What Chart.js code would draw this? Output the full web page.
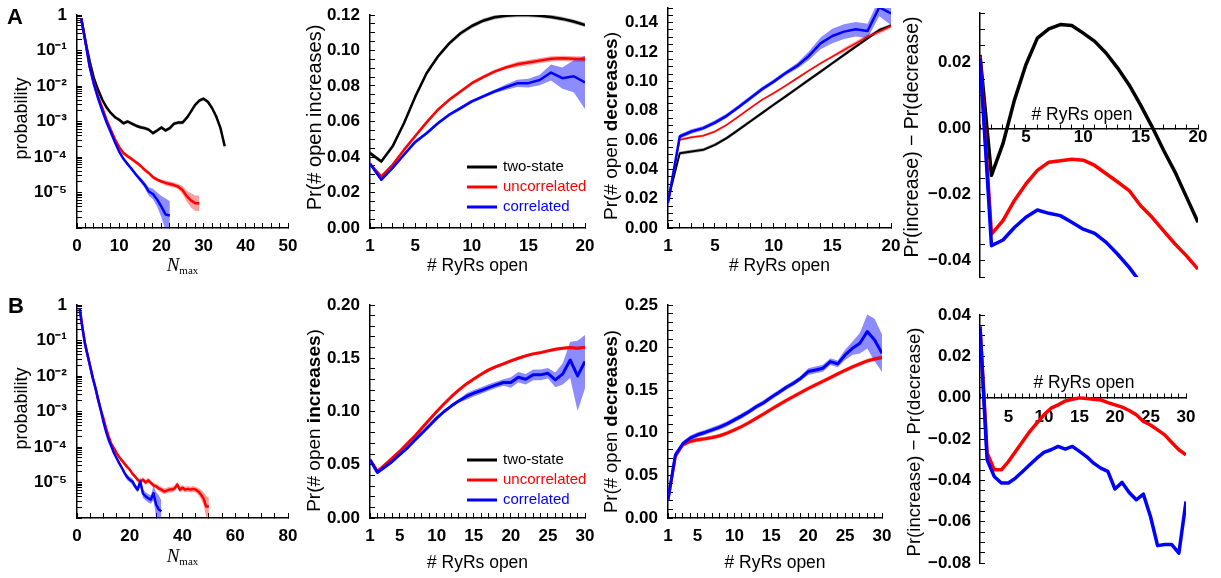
<!DOCTYPE html>
<html>
<head>
<meta charset="utf-8">
<script src="https://cdn.jsdelivr.net/npm/chart.js@4.4.1/dist/chart.umd.min.js"></script>
<style>
  html, body { margin: 0; padding: 0; background: #fff; }
  #fig { position: relative; width: 1221px; height: 578px; overflow: hidden; background: #fff; }
  #fig canvas { position: absolute; }
</style>
</head>
<body>
<div id="fig">
  <canvas id="a1" width="300" height="285" style="left:0;top:0"></canvas>
  <canvas id="a2" width="302" height="285" style="left:298px;top:0"></canvas>
  <canvas id="a3" width="305" height="285" style="left:600px;top:0"></canvas>
  <canvas id="a4" width="321" height="285" style="left:900px;top:0"></canvas>
  <canvas id="b1" width="300" height="288" style="left:0;top:290px"></canvas>
  <canvas id="b2" width="302" height="288" style="left:298px;top:290px"></canvas>
  <canvas id="b3" width="305" height="288" style="left:600px;top:290px"></canvas>
  <canvas id="b4" width="321" height="288" style="left:900px;top:290px"></canvas>
</div>
<script>
// every series starts at x = 1 (N_max or # RyRs open) and steps by one

// --- row A, N_max distribution (log scale)
const a1Two = [0.81, 0.178, 0.05, 0.0166, 0.0078, 0.0041, 0.0025, 0.00174, 0.00132, 0.00112,
  8.9e-4, 1.0e-3, 8.7e-4, 7.6e-4, 6.9e-4, 6.5e-4, 5.9e-4, 4.7e-4, 5.6e-4, 6.8e-4,
  5.6e-4, 6.5e-4, 8.7e-4, 9.3e-4, 9.3e-4, 1.26e-3, 1.9e-3, 2.95e-3, 3.9e-3, 4.4e-3,
  3.6e-3, 2.4e-3, 1.38e-3, 6.5e-4, 2.0e-4];
const a1Unc = [0.81, 0.178, 0.0355, 0.012, 0.005, 0.0024, 0.00112, 5.9e-4, 3.16e-4, 1.9e-4,
  1.29e-4, 1.05e-4, 8.7e-5, 7.1e-5, 5.75e-5, 4.4e-5, 3.55e-5, 2.7e-5, 2.3e-5, 2.04e-5,
  1.86e-5, 1.74e-5, 1.62e-5, 1.45e-5, 1.17e-5, 7.9e-6, 6.0e-6, 5.0e-6, 5.0e-6];
const a1Cor = [0.81, 0.178, 0.0355, 0.0112, 0.0045, 0.002, 9.5e-4, 5.0e-4, 2.6e-4, 1.41e-4,
  8.9e-5, 6.3e-5, 4.5e-5, 3.16e-5, 2.3e-5, 1.66e-5, 1.07e-5, 9.1e-6, 6.3e-6, 4.0e-6,
  2.4e-6, 2.24e-6];
// band half-widths in decades
const a1TwoSd = [0.02, 0.02, 0.02, 0.02, 0.02, 0.02, 0.02, 0.05, 0.05, 0.05,
  0.05, 0.05, 0.05, 0.05, 0.05, 0.05, 0.05, 0.05, 0.05, 0.05,
  0.05, 0.05, 0.05, 0.05, 0.05, 0.05, 0.05, 0.05, 0.05, 0.05,
  0.05, 0.05, 0.05, 0.07, 0.09];
const a1UncSd = [0.02, 0.02, 0.02, 0.02, 0.02, 0.02, 0.02, 0.02, 0.02, 0.02,
  0.05, 0.05, 0.05, 0.05, 0.05, 0.05, 0.05, 0.05, 0.05, 0.05,
  0.07, 0.07, 0.07, 0.07, 0.12, 0.15, 0.2, 0.22, 0.22];
const a1CorSd = [0.02, 0.02, 0.02, 0.02, 0.02, 0.02, 0.02, 0.02, 0.02, 0.02,
  0.02, 0.02, 0.05, 0.05, 0.06, 0.08, 0.12, 0.15, 0.2, 0.3,
  0.45, 0.4];

// --- row A, Pr(# open increases)
const a2Two = [0.0422, 0.0375, 0.046, 0.059, 0.074, 0.0872, 0.0966, 0.104, 0.1097, 0.1138,
  0.1168, 0.1187, 0.1196, 0.12, 0.12, 0.1196, 0.1189, 0.1178, 0.1163, 0.1144];
const a2Unc = [0.0362, 0.029, 0.0356, 0.044, 0.0518, 0.0595, 0.0666, 0.0722, 0.0769, 0.0816,
  0.085, 0.0881, 0.0904, 0.0922, 0.0932, 0.0943, 0.0953, 0.0956, 0.0953, 0.0951];
const a2Cor = [0.0362, 0.0272, 0.0338, 0.0413, 0.0485, 0.0534, 0.059, 0.0638, 0.0675, 0.0713,
  0.0741, 0.0769, 0.0793, 0.0815, 0.0816, 0.0834, 0.0876, 0.0844, 0.0855, 0.082];
const a2TwoSd = [0.0012, 0.0012, 0.0012, 0.0012, 0.0012, 0.0012, 0.0012, 0.0012, 0.0012, 0.0012,
  0.0012, 0.0012, 0.0012, 0.0012, 0.0012, 0.0012, 0.0012, 0.0012, 0.0012, 0.0012];
const a2UncSd = [0.001, 0.001, 0.001, 0.001, 0.001, 0.001, 0.001, 0.001, 0.001, 0.001,
  0.001, 0.001, 0.001, 0.0015, 0.0015, 0.0015, 0.0015, 0.0015, 0.0015, 0.0015];
const a2CorSd = [0.001, 0.001, 0.001, 0.001, 0.001, 0.001, 0.001, 0.001, 0.001, 0.001,
  0.001, 0.001, 0.0015, 0.002, 0.0025, 0.003, 0.0045, 0.006, 0.009, 0.015];

// --- row A, Pr(# open decreases)
const a3Two = [0.019, 0.051, 0.0522, 0.0533, 0.0567, 0.0613, 0.0669, 0.0726, 0.0783, 0.084,
  0.0896, 0.0953, 0.101, 0.1066, 0.1123, 0.118, 0.1237, 0.1293, 0.135, 0.138];
const a3Unc = [0.019, 0.0601, 0.0619, 0.0629, 0.0658, 0.0703, 0.076, 0.0817, 0.0874, 0.0919,
  0.0969, 0.1021, 0.1073, 0.1123, 0.1169, 0.1214, 0.1259, 0.1305, 0.1339, 0.1377];
const a3Cor = [0.017, 0.0624, 0.0658, 0.0681, 0.0719, 0.0765, 0.0824, 0.0885, 0.0946, 0.0998,
  0.1055, 0.1105, 0.1173, 0.1259, 0.1309, 0.1339, 0.1355, 0.1343, 0.1504, 0.1464];
const a3TwoSd = [0.0012, 0.0012, 0.0012, 0.0012, 0.0012, 0.0012, 0.0012, 0.0012, 0.0012, 0.0012,
  0.0012, 0.0012, 0.0012, 0.0012, 0.0012, 0.0012, 0.0012, 0.0012, 0.0012, 0.0012];
const a3UncSd = [0.0008, 0.0008, 0.0008, 0.0008, 0.0008, 0.0008, 0.0008, 0.0008, 0.0008, 0.0008,
  0.0008, 0.0008, 0.0008, 0.0008, 0.0008, 0.0015, 0.0015, 0.0015, 0.0015, 0.0015];
const a3CorSd = [0.0015, 0.0015, 0.0015, 0.0015, 0.0015, 0.0015, 0.0015, 0.0015, 0.0015, 0.0015,
  0.0015, 0.002, 0.003, 0.004, 0.005, 0.005, 0.005, 0.005, 0.006, 0.008];

// --- row A, Pr(increase) - Pr(decrease)
const a4Two = [0.0223, -0.0142, -0.0046, 0.0086, 0.0193, 0.0274, 0.0302, 0.0315, 0.0312, 0.0289,
  0.0264, 0.0228, 0.0183, 0.0132, 0.0071, 0.0005, -0.0066, -0.0132, -0.0208, -0.0284];
const a4Unc = [0.0218, -0.032, -0.0279, -0.0218, -0.0168, -0.0127, -0.0102, -0.0098, -0.0093, -0.0096,
  -0.0112, -0.0137, -0.0162, -0.0188, -0.0234, -0.0269, -0.031, -0.035, -0.0386, -0.0426];
const a4Cor = [0.0213, -0.0355, -0.0338, -0.03, -0.0269, -0.0247, -0.0257, -0.0264, -0.0284, -0.0305,
  -0.0318, -0.0345, -0.0381, -0.0421, -0.0467];

// --- row B, N_max distribution (log scale)
const b1Unc = [0.81, 0.245, 0.083, 0.039, 0.0186, 0.0087, 0.0046, 0.0022, 0.00112, 6.5e-4,
  3.4e-4, 2.0e-4, 1.23e-4, 9.3e-5, 6.8e-5, 5.2e-5, 4.2e-5, 3.4e-5, 2.75e-5, 2.3e-5,
  1.78e-5, 1.48e-5, 1.2e-5, 1.07e-5, 1.2e-5, 1.0e-5, 1.15e-5, 9.8e-6, 8.3e-6, 7.8e-6,
  6.8e-6, 6.3e-6, 5.6e-6, 5.9e-6, 6.3e-6, 6.3e-6, 6.8e-6, 8.7e-6, 6.3e-6, 7.1e-6,
  6.3e-6, 6.6e-6, 6.3e-6, 6.6e-6, 6.3e-6, 5.6e-6, 4.6e-6, 3.5e-6, 2.1e-6, 2.1e-6];
const b1Cor = [0.81, 0.245, 0.083, 0.039, 0.0186, 0.0087, 0.0046, 0.0022, 0.00112, 5.2e-4,
  2.75e-4, 1.58e-4, 1.05e-4, 6.8e-5, 4.9e-5, 3.5e-5, 2.6e-5, 1.86e-5, 1.41e-5, 1.2e-5,
  1.07e-5, 7.8e-6, 6.3e-6, 1.07e-5, 4.9e-6, 4.1e-6, 3.6e-6, 3.3e-6, 5.0e-6, 2.4e-6,
  1.74e-6, 1.55e-6];
const b1UncSd = [0.02, 0.02, 0.02, 0.02, 0.02, 0.02, 0.02, 0.02, 0.02, 0.02,
  0.02, 0.02, 0.02, 0.02, 0.02, 0.05, 0.05, 0.05, 0.05, 0.05,
  0.05, 0.05, 0.07, 0.07, 0.07, 0.07, 0.07, 0.07, 0.07, 0.07,
  0.08, 0.08, 0.08, 0.08, 0.08, 0.08, 0.08, 0.08, 0.08, 0.08,
  0.08, 0.08, 0.08, 0.08, 0.08, 0.1, 0.13, 0.18, 0.3, 0.25];
const b1CorSd = [0.02, 0.02, 0.02, 0.02, 0.02, 0.02, 0.02, 0.02, 0.02, 0.02,
  0.02, 0.02, 0.02, 0.02, 0.05, 0.05, 0.05, 0.05, 0.08, 0.08,
  0.08, 0.08, 0.08, 0.12, 0.12, 0.12, 0.12, 0.12, 0.2, 0.35,
  0.4, 0.3];

// --- row B, Pr(# open increases)
const b2Unc = [0.0547, 0.0438, 0.05, 0.0563, 0.0625, 0.0697, 0.0766, 0.0844, 0.0922, 0.1,
  0.1072, 0.1141, 0.1203, 0.1259, 0.1306, 0.135, 0.1391, 0.1422, 0.1447, 0.1475,
  0.15, 0.1522, 0.1541, 0.1553, 0.1569, 0.1584, 0.1594, 0.16, 0.1594, 0.1603];
const b2Cor = [0.0547, 0.0428, 0.0478, 0.0531, 0.0594, 0.0656, 0.0728, 0.0797, 0.0866, 0.0938,
  0.1, 0.1053, 0.11, 0.1141, 0.1172, 0.1197, 0.1225, 0.125, 0.1272, 0.1272,
  0.1322, 0.1303, 0.1344, 0.1344, 0.1359, 0.1297, 0.1353, 0.1484, 0.1334, 0.1469];
const b2UncSd = [0.0015, 0.0015, 0.0015, 0.0015, 0.0015, 0.0015, 0.0015, 0.0015, 0.0015, 0.0015,
  0.0015, 0.0015, 0.0015, 0.0015, 0.0015, 0.0015, 0.0015, 0.0015, 0.0015, 0.0015,
  0.0015, 0.0015, 0.0015, 0.0015, 0.0015, 0.0015, 0.0015, 0.0015, 0.0015, 0.0015];
const b2CorSd = [0.0015, 0.0015, 0.0015, 0.0015, 0.0015, 0.0015, 0.0015, 0.0015, 0.0015, 0.0015,
  0.0015, 0.0015, 0.0015, 0.003, 0.003, 0.003, 0.003, 0.003, 0.003, 0.005,
  0.005, 0.005, 0.005, 0.005, 0.005, 0.007, 0.01, 0.017, 0.033, 0.025];

// --- row B, Pr(# open decreases)
const b3Unc = [0.0215, 0.0723, 0.0859, 0.0898, 0.0918, 0.093, 0.0945, 0.0965, 0.0996, 0.1035,
  0.1074, 0.1121, 0.1172, 0.1223, 0.1277, 0.1328, 0.1379, 0.1426, 0.1473, 0.152,
  0.1563, 0.1605, 0.1648, 0.1691, 0.1734, 0.1773, 0.1809, 0.1844, 0.1867, 0.1883];
const b3Cor = [0.0215, 0.0742, 0.0871, 0.0938, 0.0977, 0.1004, 0.1035, 0.1066, 0.1105, 0.1152,
  0.1199, 0.125, 0.1309, 0.1355, 0.1418, 0.1473, 0.1531, 0.1582, 0.1641, 0.1719,
  0.1738, 0.1758, 0.1836, 0.1809, 0.1914, 0.1992, 0.2051, 0.2188, 0.209, 0.1934];
const b3UncSd = [0.0025, 0.0025, 0.0025, 0.0025, 0.0025, 0.0025, 0.0025, 0.0025, 0.0025, 0.0025,
  0.0025, 0.0025, 0.0025, 0.0025, 0.0025, 0.0025, 0.0025, 0.0025, 0.0025, 0.0025,
  0.0025, 0.0025, 0.0025, 0.0025, 0.0025, 0.0025, 0.0025, 0.0025, 0.0025, 0.0025];
const b3CorSd = [0.003, 0.003, 0.003, 0.003, 0.003, 0.003, 0.003, 0.003, 0.003, 0.003,
  0.003, 0.003, 0.003, 0.003, 0.003, 0.003, 0.003, 0.003, 0.003, 0.004,
  0.004, 0.004, 0.004, 0.004, 0.006, 0.008, 0.012, 0.02, 0.025, 0.022];

// --- row B, Pr(increase) - Pr(decrease)
const b4Unc = [0.0344, -0.0268, -0.0349, -0.0349, -0.0309, -0.026, -0.0212, -0.0164, -0.0123, -0.0083,
  -0.0051, -0.0035, -0.0016, -0.0008, -0.0001, -0.0004, -0.0008, -0.0011, -0.0024, -0.0035,
  -0.0046, -0.0062, -0.0083, -0.0115, -0.0132, -0.0156, -0.018, -0.0217, -0.0252, -0.0277];
const b4Cor = [0.0344, -0.0301, -0.0381, -0.0413, -0.0413, -0.0389, -0.0357, -0.0325, -0.0293, -0.0265,
  -0.0252, -0.0236, -0.0249, -0.0236, -0.026, -0.0285, -0.0317, -0.0341, -0.0357, -0.0442,
  -0.041, -0.0459, -0.0494, -0.0467, -0.0575, -0.0716, -0.0711, -0.0711, -0.0752, -0.0502];

// labelled ticks
const logLabels = [1e-5, 1e-4, 1e-3, 1e-2, 1e-1, 1];
const a1XLabels = [0, 10, 20, 30, 40, 50];
const b1XLabels = [0, 20, 40, 60, 80];
const openA = [1, 5, 10, 15, 20];
const openB = [1, 5, 10, 15, 20, 25, 30];
const a2YLabels = [0, 0.02, 0.04, 0.06, 0.08, 0.10, 0.12];
const a3YLabels = [0, 0.02, 0.04, 0.06, 0.08, 0.10, 0.12, 0.14];
const a4YLabels = [-0.04, -0.02, 0, 0.02];
const b2YLabels = [0, 0.05, 0.10, 0.15, 0.20];
const b3YLabels = [0, 0.05, 0.10, 0.15, 0.20, 0.25];
const b4YLabels = [-0.08, -0.06, -0.04, -0.02, 0, 0.02, 0.04];

const names = ['two-state', 'uncorrelated', 'correlated'];
const BLACK = '#000000', RED = '#ff0000', BLUE = '#0000ff';
const SANS = '"Liberation Sans", Arial, Helvetica, sans-serif';
const SERIF = '"Liberation Serif", "Times New Roman", serif';
const tickFont = { family: SANS, size: 17, weight: 'bold' };
const SUP = { '-': '\u207B', '0': '\u2070', '1': '\u00B9', '2': '\u00B2', '3': '\u00B3', '4': '\u2074', '5': '\u2075', '6': '\u2076', '7': '\u2077', '8': '\u2078', '9': '\u2079' };

const bandColor = { [BLACK]: 'rgba(0,0,0,0.32)', [RED]: 'rgba(255,0,0,0.38)', [BLUE]: 'rgba(0,0,255,0.45)' };
const layer = { [BLUE]: 0, [RED]: 1, [BLACK]: 2 };

// one curve plus its shaded band (hi filled down to lo)
function trace(name, color, ys, sd, width, log) {
  const at = (i, y) => ({ x: i + 1, y });
  const sets = [];
  if (sd) {
    const hi = ys.map((y, i) => at(i, log ? y * Math.pow(10, sd[i]) : y + sd[i]));
    const lo = ys.map((y, i) => at(i, log ? y / Math.pow(10, sd[i]) : y - sd[i]));
    sets.push({ data: hi, borderWidth: 0, borderColor: 'transparent', fill: '+1', backgroundColor: bandColor[color], order: 10 + layer[color] });
    sets.push({ data: lo, borderWidth: 0, borderColor: 'transparent', fill: false, order: 10 + layer[color] });
  }
  sets.push({ label: name, key: true, data: ys.map((y, i) => at(i, y)), borderColor: color, backgroundColor: color, borderWidth: width, fill: false, order: layer[color] });
  return sets;
}

function steps(min, max, step) {
  const out = [];
  const n = Math.round((max - min) / step);
  for (let i = 0; i <= n; i++) out.push(+(min + i * step).toFixed(6));
  return out;
}

const fixed2 = v => (v < -1e-9 ? '\u2212' : '') + Math.abs(v).toFixed(2);
const whole = v => String(Math.round(v));

function axisBase(pos, pad, size) {
  return {
    position: pos,
    grid: { drawOnChartArea: false, drawTicks: true, tickLength: -5, color: '#000', tickColor: '#000', tickWidth: 1 },
    border: { display: true, color: '#000', width: 1.5 },
    title: { display: false },
    afterFit: s => {
      if (size != null) { if (s.isHorizontal()) s.height = size; else s.width = size; }
      s.paddingTop = s.paddingBottom = s.paddingLeft = s.paddingRight = 0;
    }
  };
}

function linAxis(pos, min, max, step, labels, fmt, pad, size) {
  const ax = axisBase(pos, pad, size);
  ax.type = 'linear'; ax.min = min; ax.max = max;
  ax.afterBuildTicks = s => { s.ticks = steps(min, max, step).map(value => ({ value })); };
  ax.ticks = {
    autoSkip: false, maxRotation: 0, minRotation: 0, padding: pad, color: '#000', font: tickFont,
    callback: v => labels.some(m => Math.abs(m - v) < step / 10) ? fmt(v) : ''
  };
  return ax;
}

// log axis 1e-6 .. 1 with minor ticks at 2..9 of each decade
function logAxis(pad, size) {
  const ax = axisBase('left', pad, size);
  ax.type = 'logarithmic'; ax.min = 1e-6; ax.max = 1;
  ax.afterBuildTicks = s => {
    const t = [];
    for (let e = -6; e < 0; e++) for (let m = 1; m <= 9; m++) t.push({ value: +(m * Math.pow(10, e)).toPrecision(3) });
    t.push({ value: 1 });
    s.ticks = t;
  };
  ax.ticks = {
    autoSkip: false, padding: pad, color: '#000', font: tickFont,
    callback: v => {
      if (!logLabels.some(m => Math.abs(v / m - 1) < 1e-6)) return '';
      const e = Math.round(Math.log10(v));
      return e === 0 ? '1' : '10' + String(e).split('').map(c => SUP[c]).join('');
    }
  };
  return ax;
}

// free text placed against the plot area: x from left/mid/right, y from top/mid/bottom/zero
function captions(items) {
  return {
    id: 'captions',
    afterDraw(chart) {
      const { ctx, chartArea: a } = chart;
      items.forEach(it => {
        let x = it.x[0] === 'left' ? a.left : it.x[0] === 'right' ? a.right : (a.left + a.right) / 2;
        let y = it.y[0] === 'top' ? a.top : it.y[0] === 'bottom' ? a.bottom :
          it.y[0] === 'zero' ? chart.scales.y.getPixelForValue(0) : (a.top + a.bottom) / 2;
        x += it.x[1]; y += it.y[1];
        ctx.save();
        ctx.translate(x, y);
        if (it.rot) ctx.rotate(it.rot * Math.PI / 180);
        ctx.fillStyle = '#000';
        ctx.textAlign = 'left';
        ctx.textBaseline = it.base || 'middle';
        let w = 0;
        it.parts.forEach(p => { ctx.font = p[1]; w += ctx.measureText(p[0]).width; });
        let cx = -w / 2;
        it.parts.forEach(p => {
          ctx.font = p[1];
          ctx.fillText(p[0], cx, p[2] || 0);
          cx += ctx.measureText(p[0]).width;
        });
        ctx.restore();
      });
    }
  };
}

// series key drawn inside the plot, rows measured up from the bottom edge
function insideKey(dx, rows) {
  return {
    id: 'insideKey',
    afterDatasetsDraw(chart) {
      const { ctx, chartArea: a } = chart;
      const items = chart.data.datasets.filter(d => d.key);
      ctx.save();
      ctx.font = '15px ' + SANS;
      ctx.textBaseline = 'middle';
      ctx.textAlign = 'left';
      items.forEach((d, i) => {
        const y = a.bottom - rows[i];
        ctx.strokeStyle = d.borderColor;
        ctx.lineWidth = 3;
        ctx.beginPath();
        ctx.moveTo(a.left + dx, y);
        ctx.lineTo(a.left + dx + 30, y);
        ctx.stroke();
        ctx.fillStyle = d.borderColor;
        ctx.fillText(d.label, a.left + dx + 36, y);
      });
      ctx.restore();
    }
  };
}

function panel(id, cfg) {
  const plugins = [captions(cfg.captions)];
  if (cfg.key) plugins.push(insideKey(cfg.key[0], cfg.key[1]));
  return new Chart(document.getElementById(id), {
    type: 'line',
    data: { datasets: cfg.datasets },
    options: {
      responsive: false, animation: false, events: [],
      layout: { padding: cfg.pad },
      elements: {
        point: { radius: 0, hoverRadius: 0 },
        line: { tension: 0, borderJoinStyle: 'round', borderCapStyle: 'butt' }
      },
      plugins: { legend: { display: false }, tooltip: { enabled: false } },
      scales: { x: cfg.x, y: cfg.y }
    },
    plugins
  });
}

const f = (size, weight) => (weight || '') + ' ' + size + 'px ' + SANS;
const prTitle = (word, size, bold) => [['Pr(# open ', f(size)], [word, f(size, bold ? 'bold' : '')], [')', f(size)]];
const nMax = [['N', 'italic 19px ' + SERIF], ['max', '11px ' + SERIF, 3]];
const openTitle = [['# RyRs open', f(17.5)]];
const diffTitle = size => [['Pr(increase) \u2212 Pr(decrease)', f(size)]];

// ---------------- row A
panel('a1', {
  pad: { left: 0, top: 15, right: 12, bottom: 0 },
  x: linAxis('bottom', 0, 50, 2, a1XLabels, whole, 13.5, 57),
  y: logAxis(15, 77),
  datasets: [].concat(
    trace(names[0], BLACK, a1Two, a1TwoSd, 2.5, true),
    trace(names[1], RED, a1Unc, a1UncSd, 2.5, true),
    trace(names[2], BLUE, a1Cor, a1CorSd, 2.5, true)),
  captions: [
    { parts: [['A', 'bold 22px ' + SANS]], x: ['left', -62], y: ['top', 3] },
    { parts: [['probability', f(18)]], x: ['left', -55], y: ['mid', -3], rot: -90 },
    { parts: nMax, x: ['mid', 0], y: ['bottom', 43], base: 'alphabetic' }
  ]
});

panel('a2', {
  pad: { left: 0, top: 15, right: 15, bottom: 0 },
  x: linAxis('bottom', 1, 20, 1, openA, whole, 13.5, 57),
  y: linAxis('left', 0, 0.12, 0.005, a2YLabels, fixed2, 15, 72),
  datasets: [].concat(
    trace(names[0], BLACK, a2Two, a2TwoSd, 2.5),
    trace(names[1], RED, a2Unc, a2UncSd, 2.5),
    trace(names[2], BLUE, a2Cor, a2CorSd, 2.5)),
  key: [97, [61, 41, 21]],
  captions: [
    { parts: prTitle('increases', 20, false), x: ['left', -55], y: ['mid', -4], rot: -90 },
    { parts: openTitle, x: ['mid', 0], y: ['bottom', 38] }
  ]
});

panel('a3', {
  pad: { left: 0, top: 8, right: 14, bottom: 0 },
  x: linAxis('bottom', 1, 20, 1, openA, whole, 13.5, 57),
  y: linAxis('left', 0, 0.15, 0.005, a3YLabels, fixed2, 15, 68),
  datasets: [].concat(
    trace(names[0], BLACK, a3Two, a3TwoSd, 2),
    trace(names[1], RED, a3Unc, a3UncSd, 1.5),
    trace(names[2], BLUE, a3Cor, a3CorSd, 2.5)),
  captions: [
    { parts: prTitle('decreases', 19, true), x: ['left', -56], y: ['mid', 8], rot: -90 },
    { parts: openTitle, x: ['mid', 0], y: ['bottom', 38] }
  ]
});

panel('a4', {
  pad: { left: 0, top: 13, right: 23, bottom: 8 },
  x: linAxis({ y: 0 }, 1, 20, 1, [5, 10, 15, 20], whole, 4, null),
  y: linAxis('left', -0.045, 0.035, 0.005, a4YLabels, fixed2, 14, 80),
  datasets: [].concat(
    trace(names[0], BLACK, a4Two, null, 3.5),
    trace(names[1], RED, a4Unc, null, 3.5),
    trace(names[2], BLUE, a4Cor, null, 3.5)),
  captions: [
    { parts: diffTitle(19.5), x: ['left', -67], y: ['mid', -8], rot: -90 },
    { parts: openTitle, x: ['mid', -7], y: ['zero', -13] }
  ]
});

// ---------------- row B
panel('b1', {
  pad: { left: 0, top: 15, right: 12, bottom: 0 },
  x: linAxis('bottom', 0, 80, 5, b1XLabels, whole, 13.5, 60),
  y: logAxis(15, 77),
  datasets: [].concat(
    trace(names[1], RED, b1Unc, b1UncSd, 2.5, true),
    trace(names[2], BLUE, b1Cor, b1CorSd, 2.5, true)),
  captions: [
    { parts: [['B', 'bold 22px ' + SANS]], x: ['left', -61], y: ['top', 2] },
    { parts: [['probability', f(18)]], x: ['left', -55], y: ['mid', -3], rot: -90 },
    { parts: nMax, x: ['mid', 0], y: ['bottom', 44], base: 'alphabetic' }
  ]
});

panel('b2', {
  pad: { left: 0, top: 15, right: 15, bottom: 0 },
  x: linAxis('bottom', 1, 30, 1, openB, whole, 13.5, 60),
  y: linAxis('left', 0, 0.20, 0.01, b2YLabels, fixed2, 15, 72),
  datasets: [].concat(
    [{ label: names[0], key: true, data: [], borderColor: BLACK, borderWidth: 3 }],
    trace(names[1], RED, b2Unc, b2UncSd, 3),
    trace(names[2], BLUE, b2Cor, b2CorSd, 3)),
  key: [97, [58, 38, 18]],
  captions: [
    { parts: prTitle('increases', 19, true), x: ['left', -55], y: ['mid', 9], rot: -90 },
    { parts: openTitle, x: ['mid', 0], y: ['bottom', 45] }
  ]
});

panel('b3', {
  pad: { left: 0, top: 15, right: 23, bottom: 0 },
  x: linAxis('bottom', 1, 30, 1, openB, whole, 13.5, 60),
  y: linAxis('left', 0, 0.25, 0.01, b3YLabels, fixed2, 15, 68),
  datasets: [].concat(
    trace(names[1], RED, b3Unc, b3UncSd, 3),
    trace(names[2], BLUE, b3Cor, b3CorSd, 3)),
  captions: [
    { parts: prTitle('decreases', 18.5, true), x: ['left', -56], y: ['mid', 10], rot: -90 },
    { parts: openTitle, x: ['mid', 0], y: ['bottom', 45] }
  ]
});

panel('b4', {
  pad: { left: 0, top: 25, right: 35, bottom: 15 },
  x: linAxis({ y: 0 }, 1, 30, 1, [5, 10, 15, 20, 25, 30], whole, 14, null),
  y: linAxis('left', -0.08, 0.04, 0.005, b4YLabels, fixed2, 14, 80),
  datasets: [].concat(
    trace(names[1], RED, b4Unc, null, 3.5),
    trace(names[2], BLUE, b4Cor, null, 3.5)),
  captions: [
    { parts: diffTitle(18.5), x: ['left', -65], y: ['mid', 3], rot: -90 },
    { parts: openTitle, x: ['mid', 1], y: ['zero', -14] }
  ]
});
</script>
</body>
</html>
